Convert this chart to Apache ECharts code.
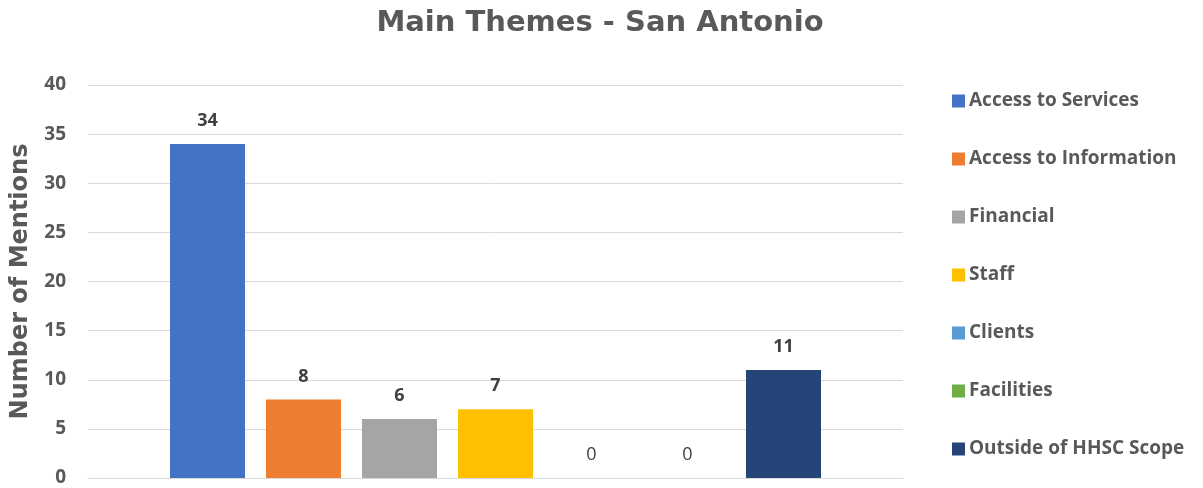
<!DOCTYPE html>
<html>
<head>
<meta charset="utf-8">
<title>Main Themes - San Antonio</title>
<script src="https://cdn.jsdelivr.net/npm/echarts@6/dist/echarts.min.js"></script>
<style>
  html, body { margin: 0; padding: 0; background: #fff; }
  #chart { width: 1203px; height: 488px; }
</style>
</head>
<body>
<div id="chart"></div>
<script>
// one category, one series per theme (Excel-style clustered legend)
var themes = ['Access to Services', 'Access to Information', 'Financial', 'Staff', 'Clients', 'Facilities', 'Outside of HHSC Scope'];
var mentions = [34, 8, 6, 7, 0, 0, 11];
var yTicks = [0, 5, 10, 15, 20, 25, 30, 35, 40];

var palette = ['#4472C4', '#ED7D31', '#A5A5A5', '#FFC000', '#5B9BD5', '#70AD47', '#264478'];
var labelFont = '"Open Sans", Lato, sans-serif';

var chart = echarts.init(document.getElementById('chart'));

var series = themes.map(function (name, i) {
  var v = mentions[i];
  return {
    name: name,
    type: 'bar',
    data: [v],
    barWidth: 75,
    barGap: '28%',
    itemStyle: { color: palette[i] },
    label: {
      show: true,
      position: 'top',
      distance: 14,
      fontFamily: labelFont,
      fontSize: 18,
      fontWeight: v === 0 ? 'normal' : 'bold',
      color: '#404040'
    }
  };
});

chart.setOption({
  animation: false,
  color: palette,
  title: {
    text: 'Main Themes - San Antonio',
    left: 595,
    textAlign: 'center',
    top: 4,
    textStyle: {
      fontFamily: '"DejaVu Sans", Verdana, sans-serif',
      fontSize: 29,
      fontWeight: 'bold',
      color: '#595959'
    }
  },
  legend: {
    orient: 'vertical',
    left: 947,
    top: 86,
    itemWidth: 13,
    itemHeight: 13,
    itemGap: 38,
    icon: 'rect',
    textStyle: {
      fontFamily: labelFont,
      fontSize: 19,
      fontWeight: 'bold',
      color: '#595959',
      lineHeight: 20,
      padding: [0, 0, 0, -1]
    },
    data: themes
  },
  grid: { left: 88, right: 300, top: 85, bottom: 10, containLabel: false },
  xAxis: {
    type: 'category',
    data: [''],
    axisLine: { show: true, lineStyle: { color: '#D9D9D9', width: 1 } },
    axisTick: { show: false },
    axisLabel: { show: false }
  },
  yAxis: {
    type: 'value',
    min: yTicks[0],
    max: yTicks[yTicks.length - 1],
    interval: yTicks[1] - yTicks[0],
    name: 'Number of Mentions',
    nameLocation: 'middle',
    nameGap: 55,
    nameTextStyle: {
      fontFamily: '"DejaVu Sans", Verdana, sans-serif',
      fontSize: 24,
      fontWeight: 'bold',
      color: '#595959'
    },
    axisLine: { show: false },
    axisTick: { show: false },
    axisLabel: {
      margin: 22,
      fontFamily: labelFont,
      fontSize: 19,
      fontWeight: 'bold',
      color: '#595959'
    },
    splitLine: { lineStyle: { color: '#D9D9D9', width: 1 } }
  },
  series: series
});
</script>
</body>
</html>
